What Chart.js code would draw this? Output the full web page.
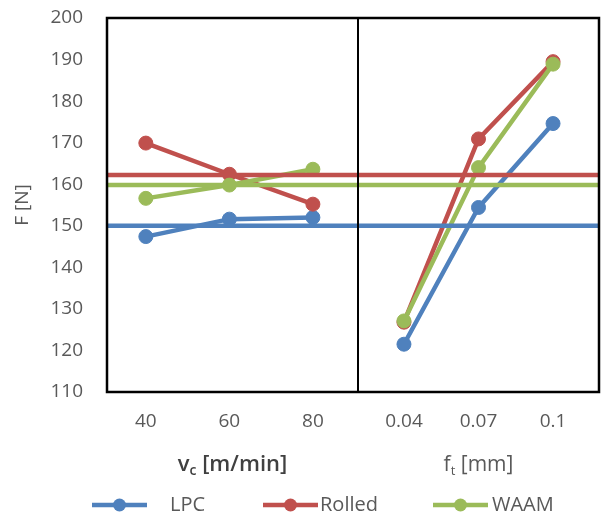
<!DOCTYPE html>
<html>
<head>
<meta charset="utf-8">
<script src="https://cdn.jsdelivr.net/npm/chart.js@4/dist/chart.umd.min.js"></script>
<style>
  body { margin: 0; background: #fff; }
  #wrap { width: 601px; height: 518px; }
</style>
</head>
<body>
<div id="wrap"><canvas id="chart" width="601" height="518"></canvas></div>
<script>
// x categories of the two panels
const vcVals = [40, 60, 80];
const vcLabels = ['40', '60', '80'];
const ftVals = [0.04, 0.07, 0.1];
const ftLabels = ['0.04', '0.07', '0.1'];

// force F [N]
const lpcVc = [147.4, 151.6, 152.0];
const lpcFt = [121.5, 154.4, 174.6];
const rolledVc = [169.9, 162.4, 155.2];
const rolledFt = [126.8, 170.9, 189.5];
const waamVc = [156.6, 159.8, 163.6];
const waamFt = [127.1, 164.0, 188.9];

// mean lines
const lpcMean = 150.0;
const rolledMean = 162.2;
const waamMean = 159.8;

const seriesNames = ['LPC', 'Rolled', 'WAAM'];
const yTicks = [110, 120, 130, 140, 150, 160, 170, 180, 190, 200];

const colors = ['#4F81BD', '#C0504D', '#9BBB59'];
const grey = '#595959';
const fontFamily = "'Open Sans', 'Liberation Sans', sans-serif";

// axis bounds (sets where the categories sit inside each panel)
const vcMin = 30.7, vcMax = 90.8;
const ftMin = 0.0215, ftMax = 0.1185;

function pts(xs, ys) {
    return xs.map((x, i) => ({ x: x, y: ys[i] }));
}

function seriesSet(name, color, xAxis, xs, ys, order) {
    return {
        label: name,
        data: pts(xs, ys),
        xAxisID: xAxis,
        borderColor: color,
        backgroundColor: color,
        borderWidth: 4.5,
        pointRadius: 7,
        pointBorderWidth: 1,
        pointBackgroundColor: color,
        pointBorderColor: color,
        order: order
    };
}

function meanSet(name, color, xAxis, lo, hi, m) {
    return {
        label: name + ' mean',
        data: [{ x: lo, y: m }, { x: hi, y: m }],
        xAxisID: xAxis,
        borderColor: color,
        borderWidth: 4.5,
        pointRadius: 0,
        order: 0
    };
}

const datasets = [
    seriesSet('LPC', colors[0], 'xv', vcVals, lpcVc, 3),
    seriesSet('Rolled', colors[1], 'xv', vcVals, rolledVc, 2),
    seriesSet('WAAM', colors[2], 'xv', vcVals, waamVc, 1),
    seriesSet('LPC', colors[0], 'xf', ftVals, lpcFt, 3),
    seriesSet('Rolled', colors[1], 'xf', ftVals, rolledFt, 2),
    seriesSet('WAAM', colors[2], 'xf', ftVals, waamFt, 1),
    meanSet('LPC', colors[0], 'xv', vcMin, vcMax, lpcMean),
    meanSet('Rolled', colors[1], 'xv', vcMin, vcMax, rolledMean),
    meanSet('WAAM', colors[2], 'xv', vcMin, vcMax, waamMean),
    meanSet('LPC', colors[0], 'xf', ftMin, ftMax, lpcMean),
    meanSet('Rolled', colors[1], 'xf', ftMin, ftMax, rolledMean),
    meanSet('WAAM', colors[2], 'xf', ftMin, ftMax, waamMean)
];

// frame round the plot and the divider between the two panels
const framePlugin = {
    id: 'frame',
    afterDatasetsDraw(chart) {
        const a = chart.chartArea;
        const ctx = chart.ctx;
        ctx.save();
        ctx.strokeStyle = '#000';
        ctx.lineWidth = 2.5;
        ctx.strokeRect(a.left, a.top, a.right - a.left, a.bottom - a.top);
        const xs = chart.scales.xv.right;
        ctx.lineWidth = 2;
        ctx.beginPath();
        ctx.moveTo(xs, a.top);
        ctx.lineTo(xs, a.bottom);
        ctx.stroke();
        ctx.restore();
    }
};

// axis titles with subscripts
function drawSubTitle(ctx, scale, main, sub, rest, font, color) {
    const big = font.weight + ' ' + font.size + 'px ' + fontFamily;
    const small = font.weight + ' ' + Math.round(font.size * 0.62) + 'px ' + fontFamily;
    ctx.font = big;
    const w1 = ctx.measureText(main).width;
    const w3 = ctx.measureText(rest).width;
    ctx.font = small;
    const w2 = ctx.measureText(sub).width;
    const cx = (scale.left + scale.right) / 2;
    const y = scale.top + 73;
    let x = cx - (w1 + w2 + w3) / 2;
    ctx.fillStyle = color;
    ctx.textBaseline = 'middle';
    ctx.textAlign = 'left';
    ctx.font = big;
    ctx.fillText(main, x, y);
    x += w1;
    ctx.font = small;
    ctx.fillText(sub, x, y + 6);
    x += w2;
    ctx.font = big;
    ctx.fillText(rest, x, y);
}

const titlePlugin = {
    id: 'subTitles',
    afterDraw(chart) {
        const ctx = chart.ctx;
        ctx.save();
        drawSubTitle(ctx, chart.scales.xv, 'v', 'c', ' [m/min]', { size: 22, weight: '600' }, '#404040');
        drawSubTitle(ctx, chart.scales.xf, 'f', 't', ' [mm]', { size: 21, weight: '400' }, grey);
        ctx.restore();
    }
};

// Excel style legend: line with a marker, fixed slots
const legendLineX = [92, 263, 433];
const legendTextX = [170, 320, 492];
const legendPlugin = {
    id: 'lineLegend',
    afterDraw(chart) {
        const ctx = chart.ctx;
        const y = chart.height - 13;
        ctx.save();
        ctx.font = '20px ' + fontFamily;
        ctx.textBaseline = 'middle';
        ctx.textAlign = 'left';
        seriesNames.forEach((name, i) => {
            ctx.strokeStyle = colors[i];
            ctx.lineWidth = 4.5;
            ctx.beginPath();
            ctx.moveTo(legendLineX[i], y);
            ctx.lineTo(legendLineX[i] + 55, y);
            ctx.stroke();
            ctx.fillStyle = colors[i];
            ctx.beginPath();
            ctx.arc(legendLineX[i] + 27.5, y, 6.5, 0, Math.PI * 2);
            ctx.fill();
            ctx.fillStyle = grey;
            ctx.fillText(name, legendTextX[i], y);
        });
        ctx.restore();
    }
};

function xAxis(min, max, vals, labels, weight) {
    return {
        type: 'linear',
        position: 'bottom',
        stack: 'panels',
        stackWeight: weight,
        min: min,
        max: max,
        afterBuildTicks: s => { s.ticks = vals.map(v => ({ value: v })); },
        afterFit: s => {
            s.height = 100;
            s.paddingLeft = 0;
            s.paddingRight = 0;
        },
        grid: { display: false, drawTicks: true, tickLength: 14 },
        border: { display: false },
        ticks: {
            autoSkip: false,
            maxRotation: 0,
            padding: 4,
            color: grey,
            font: { family: fontFamily, size: 19 },
            callback: (v, i) => labels[i]
        }
    };
}

new Chart(document.getElementById('chart'), {
    type: 'line',
    data: { datasets: datasets },
    options: {
        responsive: false,
        devicePixelRatio: 1,
        animation: false,
        layout: { autoPadding: false, padding: { top: 18, right: 2, bottom: 26, left: 0 } },
        scales: {
            xv: xAxis(vcMin, vcMax, vcVals, vcLabels, 251),
            xf: xAxis(ftMin, ftMax, ftVals, ftLabels, 241),
            y: {
                min: 110,
                max: 200,
                afterBuildTicks: s => { s.ticks = yTicks.map(v => ({ value: v })); },
                afterFit: s => { s.width = 107; },
                grid: { display: false, drawTicks: true, tickLength: 20 },
                border: { display: false },
                ticks: {
                    padding: 4,
                    color: grey,
                    font: { family: fontFamily, size: 19 }
                },
                title: {
                    display: true,
                    text: 'F [N]',
                    color: grey,
                    padding: { top: 11, bottom: 0 },
                    font: { family: fontFamily, size: 19 }
                }
            }
        },
        plugins: {
            legend: { display: false },
            tooltip: { enabled: false }
        }
    },
    plugins: [framePlugin, titlePlugin, legendPlugin]
});
</script>
</body>
</html>
